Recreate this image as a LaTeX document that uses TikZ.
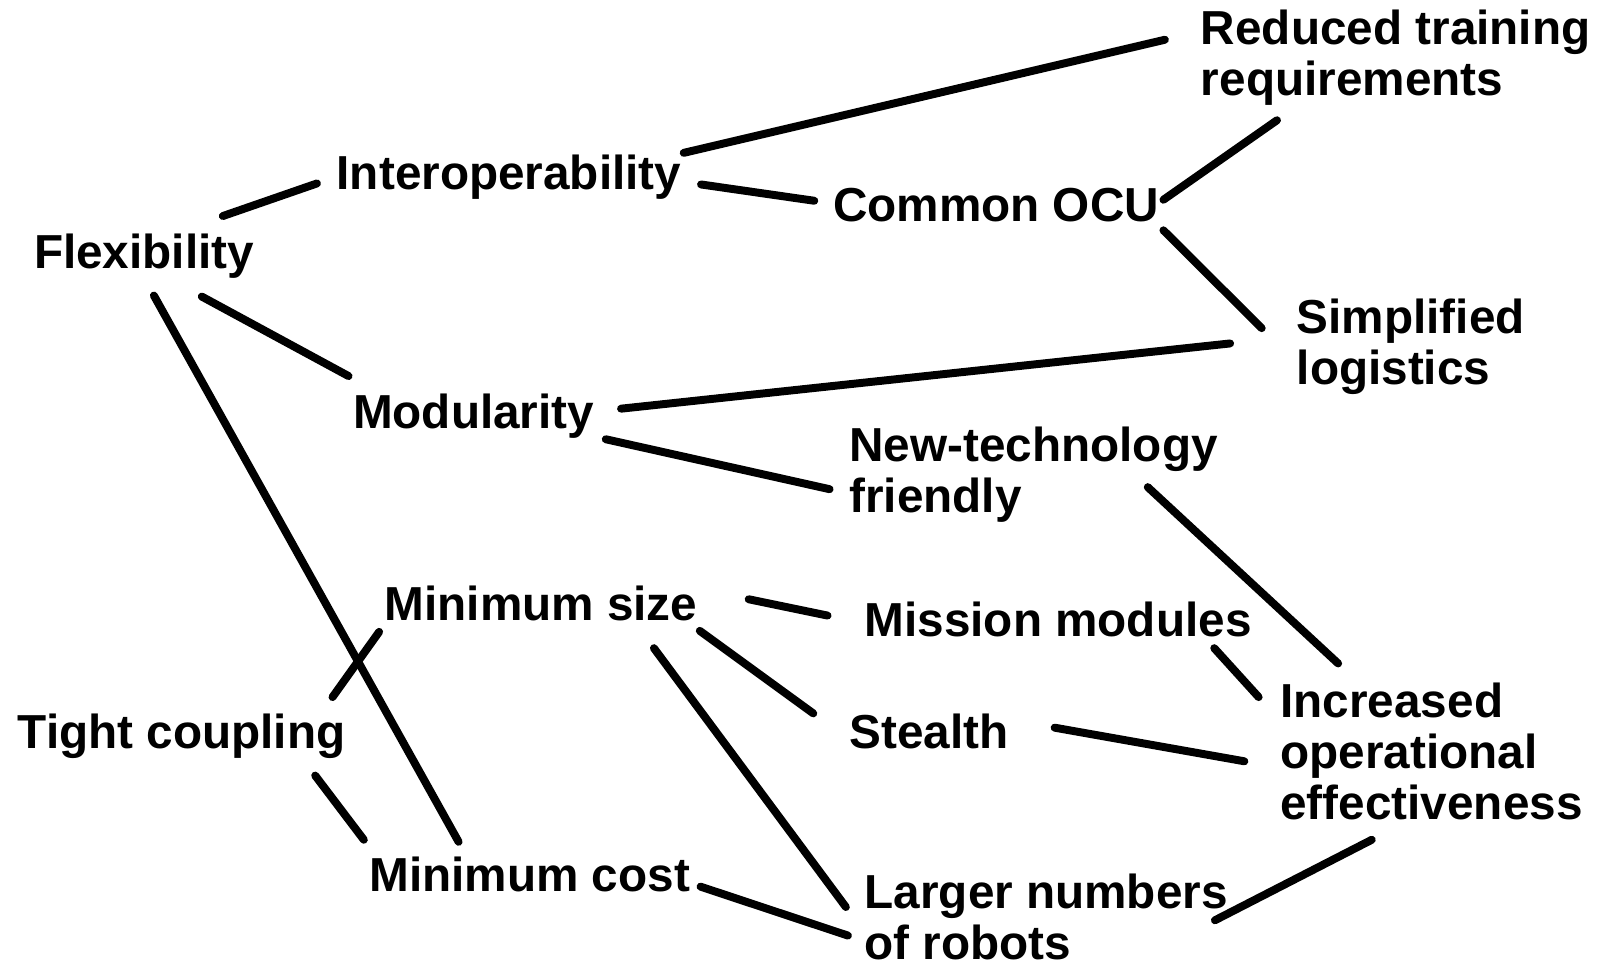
\documentclass[tikz,border=0pt]{standalone}
\usepackage{fontspec}
\setmainfont{Liberation Sans}
\tikzset{
    topic/.style = {anchor=base west, inner sep=0pt, align=left, font=\fontsize{23.4}{25}\selectfont\bfseries},
    link/.style = {line width=3.9pt, line cap=round},
}

\begin{document}
\begin{tikzpicture}[x=0.5pt, y=-0.5pt]
\useasboundingbox (0,0) rectangle (1568,947);

% attributes (multi-line ones sit on their last baseline)
\node[topic] (red) at (1178,94) {Reduced training\\requirements};
\node[topic] (interop) at (330,186) {Interoperability};
\node[topic] (ocu) at (817,217) {Common OCU};
\node[topic] (flex) at (33,263) {Flexibility};
\node[topic] (simp) at (1272,377) {Simplified\\logistics};
\node[topic] (mod) at (346,420) {Modularity};
\node[topic] (newtech) at (833,503) {New-technology\\friendly};
\node[topic] (minsize) at (377,609) {Minimum size};
\node[topic] (mission) at (848,625) {Mission modules};
\node[topic] (inc) at (1256,804) {Increased\\operational\\effectiveness};
\node[topic] (tight) at (17,734) {Tight coupling};
\node[topic] (stealth) at (833,734) {Stealth};
\node[topic] (mincost) at (362,875) {Minimum cost};
\node[topic] (larger) at (848,941) {Larger numbers\\of robots};

% links
\draw[link] ([shift={(-31,-51)}]flex.base east) -- ([shift={(-19,-6)}]interop.base west);
\draw[link] ([shift={(2,-36)}]interop.base east) -- ([shift={(-35,-55)}]red.base west);
\draw[link] ([shift={(19,-5)}]interop.base east) -- ([shift={(-18,-20)}]ocu.base west);
\draw[link] ([shift={(4,-21)}]ocu.base east) -- ([shift={(75,24)}]red.base west);
\draw[link] ([shift={(4,9)}]ocu.base east) -- ([shift={(-34,-55)}]simp.base west);
\draw[link] ([shift={(165,28)}]flex.base west) -- ([shift={(-4,-51)}]mod.base west);
\draw[link] ([shift={(26,-19)}]mod.base east) -- ([shift={(-65,-40)}]simp.base west);
\draw[link] ([shift={(11,11)}]mod.base east) -- ([shift={(-19,-23)}]newtech.base west);
\draw[link] ([shift={(118,27)}]flex.base west) -- ([shift={(88,-49)}]mincost.base west);
\draw[link] ([shift={(-5,11)}]minsize.base west) -- ([shift={(-13,-50)}]tight.base east);
\draw[link] ([shift={(-30,27)}]tight.base east) -- ([shift={(-5,-51)}]mincost.base west);
\draw[link] ([shift={(50,-21)}]minsize.base east) -- ([shift={(-36,-21)}]mission.base west);
\draw[link] ([shift={(2,10)}]minsize.base east) -- ([shift={(-35,-34)}]stealth.base west);
\draw[link] ([shift={(-43,27)}]minsize.base east) -- ([shift={(-18,-51)}]larger.base west);
\draw[link] ([shift={(10,-5)}]mincost.base east) -- ([shift={(-16,-23)}]larger.base west);
\draw[link] ([shift={(-69,-25)}]newtech.base east) -- ([shift={(57,-153)}]inc.base west);
\draw[link] ([shift={(-37,11)}]mission.base east) -- ([shift={(-21,-120)}]inc.base west);
\draw[link] ([shift={(45,-20)}]stealth.base east) -- ([shift={(-35,-57)}]inc.base west);
\draw[link] ([shift={(-13,-38)}]larger.base east) -- ([shift={(90,20)}]inc.base west);
\end{tikzpicture}
\end{document}
